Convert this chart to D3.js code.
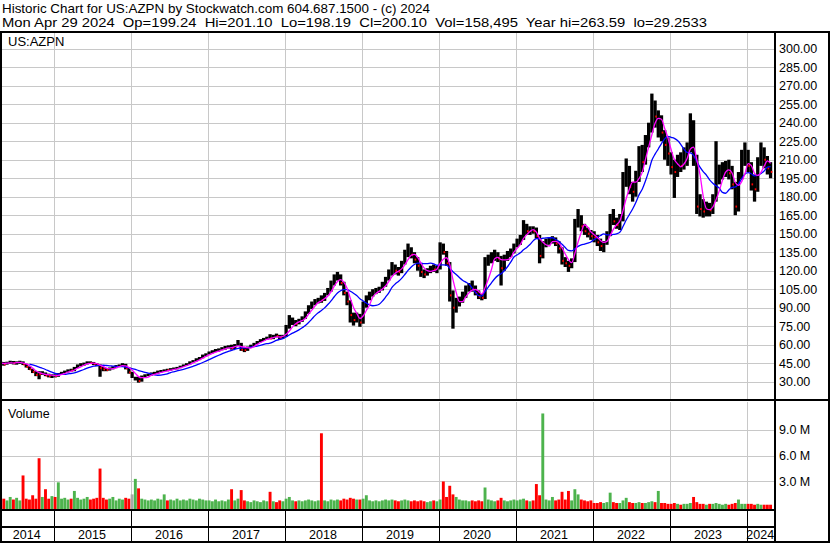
<!DOCTYPE html>
<html><head><meta charset="utf-8">
<script src="https://cdn.jsdelivr.net/npm/d3@7/dist/d3.min.js"></script>
<style>
html,body{margin:0;padding:0;background:#fff}
svg{display:block}
text{font-family:"Liberation Sans",Arial,sans-serif;fill:#000}
</style>
</head><body>
<svg id="chart" width="830" height="543"></svg>
<script>
// ---------------- DATA ----------------
const headerLine1 = "Historic Chart for US:AZPN by Stockwatch.com 604.687.1500 - (c) 2024";
const headerLine2 = "Mon Apr 29 2024  Op=199.24  Hi=201.10  Lo=198.19  Cl=200.10  Vol=158,495  Year hi=263.59  lo=29.2533";
const symbolLabel = "US:AZPN";
const volumeLabel = "Volume";
const priceTicks = [30,45,60,75,90,105,120,135,150,165,180,195,210,225,240,255,270,285,300];
const volumeTicks = [3,6,9];          // millions
const yearLabels = [2014,2015,2016,2017,2018,2019,2020,2021,2022,2023,2024];

// half-month bars: [open, high, low, close, volume (millions)]
// 2014 starts with the 2nd half of April (half-month index 7)
const firstHalfMonth2014 = 7;
const p2014 = [
 [45,46.5,43.5,45.5,1.8],[45.5,46,43,44,1.0],[44,46.2,43.8,45.5,0.8],[45.5,47,44.5,46,1.2],
 [46,46.8,44,45,0.9],[45,46.5,43.8,45.5,1.1],[45.5,47,44.5,46,0.8],[46,46.5,43.5,44,3.7],
 [44,44.5,41.5,42,1.0],[42,42.5,39.5,40,0.9],[40,40.5,37,38,1.4],[38,38.5,34.5,35.5,1.0],
 [37.5,38.5,32,36,5.7],[36,38.5,35.5,37,1.2],[37,37.5,34.5,35,2.1],[35,36.5,33.5,34.5,1.0],
 [34.5,36,33,35,1.3]];
const p2015 = [
 [35,36,33.5,34.5,1.2],[34.5,37,34,36.5,2.9],[36.5,38,36,37.5,1.0],[37.5,39,37,38,1.1],
 [38,40,37.5,39.5,0.9],[39.5,40.5,38.5,39,1.0],[39,42,38.5,41.5,1.9],[41.5,44,41,43.5,1.1],
 [43.5,45,42.5,44,0.9],[44,45.5,43,45,1.0],[45,46.5,44,45.5,1.2],[45.5,46.5,44.5,45,0.9],
 [45,46,43.5,44.5,1.0],[44.5,45,42.5,43.5,1.1],[43.5,44,34,41,4.5],[41,42,38.5,40,1.1],
 [40,41,38.5,39.5,0.9],[39.5,41.5,39,41,1.0],[41,42.5,40,42,1.2],[42,43.5,41,42.5,0.8],
 [42.5,44,42,43.5,1.0],[43.5,45,42.5,44,0.9],[44,44.5,40,41,1.1],[41,41.5,36.5,37.5,1.0]];
const p2016 = [
 [35,38,33,35,1.5],[32,34,31,33.5,3.3],[33.5,34,29.25,30.5,2.2],[30.5,35,30,34,1.0],
 [34,36,33.5,35,0.9],[35,36.5,34.5,35.5,0.8],[35.5,37.5,35,36.5,0.9],[36.5,38,36,37,0.8],
 [37,39,36.5,38,1.0],[38,39.5,37.5,38.5,0.9],[38.5,40,38,39.5,1.5],[39.5,40.5,38.5,39.4,0.8],
 [39.5,41,39,40,0.9],[40,41.5,39.5,41,0.8],[41,42,40,41.5,1.0],[41.5,43,41,42.5,0.8],
 [42.5,44,42,43.5,0.9],[43.5,45,43,44.5,0.8],[44.5,46.5,44,46,1.0],[46,47.5,45.5,47,0.9],
 [47,49,46.5,48.5,0.8],[48.5,50,47.5,49.5,1.0],[49.5,52,49,51.5,0.9],[51.5,53,50.5,52.5,0.8]];
const p2017 = [
 [52.5,54.5,52,53.5,0.8],[53.5,55.5,53,54.5,0.7],[54.5,56.5,54,55.5,0.9],[55.5,57,54.5,56,0.7],
 [56,58,55.5,57,0.8],[57,59,56,58,0.7],[58,59.5,57,58.5,0.9],[58.5,60,56,57,2.1],
 [57,60.5,56.5,60,0.8],[60,63.8,59,61,1.0],[61,61.5,55,56,2.0],[56,57.5,54,55.5,0.8],
 [55.5,58.5,55,58,0.7],[58,60,57.5,59.5,0.6],[59.5,61.5,59,61,0.8],[61,63,60.5,62.5,0.7],
 [62.5,64.5,62,64,0.6],[64,65.5,63,64.5,0.8],[64.5,66.5,64,66,0.7],[66,68.5,64.5,65,1.8],
 [65,68,64.5,67.5,0.7],[67.5,69,66,67,0.6],[67,68,64,65.5,0.8],[65.5,68,65,67,0.7]];
const p2018 = [
 [67,76,66.5,74,1.0],[74,84,73,78,1.2],[78,82,76,79,0.8],[79,80,75,77,0.7],
 [77,81,76.5,80,0.8],[80,83,78.5,82,0.7],[82,87,81,86,0.8],[86,92,85,91,0.9],
 [91,95,89,93,0.8],[93,97,92,95.5,0.7],[95.5,98,93.5,97,0.8],[97,100,94,96,8.6],
 [96,102,95.5,101,0.8],[101,106,100,104,0.7],[104,112,103,110,0.9],[110,117,108,115,0.8],
 [115,119,112,116,0.9],[116,117,108,110,0.8],[110,111,100,102,1.0],[102,103,92,95,0.9],
 [95,96,78,84,1.1],[84,86,75.5,80,1.0],[80,86,78,83,0.9],[83,85,74.5,78,0.9]];
const p2019 = [
 [78,95,77,92,1.0],[92,100,90,98,1.4],[98,103,96,101,0.8],[101,105,99,103,0.7],
 [103,106,101,104,0.8],[104,107,102,105,0.7],[105,111,104,109,0.8],[109,115,107,113,0.9],
 [113,121,112,118,0.8],[118,127,116,121,0.9],[121,125,117,120,0.8],[120,123,116,119,0.7],
 [119,128,118,126,0.8],[126,137,125,134,0.9],[134,142,131,137,0.8],[137,139,130,133,0.7],
 [133,135,126,129,0.8],[129,131,120,124,0.7],[124,126,115,119,0.8],[119,121,114,117,0.7],
 [117,122,116,120,0.6],[120,124,118,122,0.7],[122,125,119,121,0.8],[121,124,118,122,0.7]];
const p2020 = [
 [122,143,121,139,0.9],[139,142,133,135,3.0],[135,136,124,126,1.2],[126,127,95,100,2.5],
 [100,104,73,90,1.5],[90,98,86,94,1.2],[94,99,91,96,0.9],[96,103,94,100,0.8],
 [100,108,98,105,0.8],[105,110,103,107,0.7],[107,112,103,105,0.8],[105,108,100,102,0.7],
 [102,104,97,99,0.8],[99,101,96,98,0.7],[98,131,97,126,2.3],[126,133,124,129,0.9],
 [129,135,126,131,0.8],[131,137,128,133,0.7],[133,135,127,130,0.8],[130,132,108,122,1.1],
 [122,133,120,130,0.8],[130,136,128,134,0.7],[134,138,131,136,0.8],[136,142,134,140,0.9]];
const p2021 = [
 [140,146,139,143,0.8],[143,149,141,146,0.9],[146,161,145,156,1.0],[156,158,149,152,0.8],
 [152,156,149,153,0.7],[153,156,150,152,0.8],[152,155,146,148,2.7],[148,149,126,132,1.4],
 [132,144,130,141,10.9],[141,146,139,143,0.9],[143,147,141,144,0.8],[144,148,142,146,1.2],
 [146,147,140,142,0.8],[142,144,134,138,0.9],[138,139,125,128,1.8],[128,131,123,126,0.9],
 [126,128,119,124,1.9],[124,130,122,128,0.8],[128,162,127,158,2.1],[158,170,155,163,1.5],
 [163,165,152,156,0.9],[156,158,149,152,0.8],[152,155,147,150,0.7],[150,153,145,148,0.8]];
const p2022 = [
 [148,152,143,147,0.5],[147,149,140,143,0.5],[143,146,136,140,0.6],[140,144,135,142,0.5],
 [142,152,141,150,0.6],[150,166,148,162,1.7],[162,170,157,160,0.6],[160,163,154,157,0.5],
 [157,166,153,162,0.5],[162,200,160,195,0.8],[195,211,188,200,1.1],[200,205,182,188,0.6],
 [188,192,176,184,0.5],[184,201,180,195,0.5],[195,221,192,212,0.6],[212,222,200,208,0.5],
 [208,230,206,226,0.5],[226,240,220,235,0.6],[235,263.6,232,252,0.7],[252,258,236,245,0.6],
 [236,250,228,242,1.9],[242,246,225,232,0.5],[232,234,210,222,0.5],[222,228,205,215,0.4]];
const p2023 = [
 [215,216,198,204,0.4],[204,210,179,200,0.5],[200,214,196,208,0.4],[208,216,200,205,0.3],
 [205,220,202,213,0.4],[213,224,205,218,0.4],[218,247.6,216,238,0.5],[238,242,205,212,1.2],
 [212,214,166,172,0.6],[172,182,164,170,0.4],[170,178,163,168,0.4],[168,176,164,171,0.3],
 [171,175,164,169,0.4],[169,182,166,178,0.4],[178,225,176,192,0.5],[192,206,190,200,0.4],
 [200,208,194,203,0.3],[203,209,196,205,0.4],[205,210,194,199,0.3],[199,205,186,190,0.4],
 [190,192,165,172,0.5],[172,200,168,196,0.9],[196,218,194,211,0.4],[211,224,205,215,0.4]];
const p2024 = [
 [215,218,200,205,0.4],[205,208,185,190,0.4],[190,198,176,186,0.3],[186,212,184,208,0.4],
 [208,224,205,215,0.3],[215,220,203,210,0.3],[210,213,198,203,0.3],[203,208,195,200.1,0.3]];

// moving-average windows (in half-month bars)
const shortMAWindow = 4;
const longMAWindow = 10;

// ---------------- BUILD ----------------
const yearsData = [[2014,p2014],[2015,p2015],[2016,p2016],[2017,p2017],[2018,p2018],
  [2019,p2019],[2020,p2020],[2021,p2021],[2022,p2022],[2023,p2023],[2024,p2024]];
const bars = [];
yearsData.forEach(([yr, rows]) => {
  const start = yr === 2014 ? firstHalfMonth2014 : 0;
  rows.forEach((r, i) => {
    const k = start + i;
    bars.push({t: yr + (k + 0.5) / 24, o: r[0], h: r[1], l: r[2], c: r[3], v: r[4]});
  });
});
function movingAvg(n, allowPartial) {
  return bars.map((b, i) => {
    if (i < n - 1 && !allowPartial) return null;
    const s = bars.slice(Math.max(0, i - n + 1), i + 1);
    return {t: b.t, v: d3.mean(s, d => d.c)};
  }).filter(d => d);
}
const shortMA = movingAvg(shortMAWindow, true);
const longMA = movingAvg(longMAWindow, false);

// ---------------- LAYOUT ----------------
const svg = d3.select("#chart");
const plotL = 0, plotR = 774;
const priceTop = 33, priceBot = 400;
const volTop = 402, volBot = 509;
const gridColor = "#c8c8c8";

const x = d3.scaleLinear().domain([2014.305, 2024.357]).range([plotL, plotR]);
const yP = d3.scaleLinear().domain([30, 300]).range([381.7, 48.7]);
const yV = d3.scaleLinear().domain([0, 12]).range([507.3, 404]);

// grid - price
const gP = svg.append("g");
gP.selectAll("line.h").data(priceTicks).join("line")
  .attr("x1", plotL).attr("x2", plotR)
  .attr("y1", d => Math.round(yP(d)) + 0.5).attr("y2", d => Math.round(yP(d)) + 0.5)
  .attr("stroke", gridColor).attr("stroke-width", 1);
const yearLines = yearLabels.slice(1);
gP.selectAll("line.v").data(yearLines).join("line")
  .attr("x1", d => Math.round(x(d)) + 0.5).attr("x2", d => Math.round(x(d)) + 0.5)
  .attr("y1", priceTop).attr("y2", priceBot)
  .attr("stroke", gridColor).attr("stroke-width", 1);
// grid - volume
const gV = svg.append("g");
gV.selectAll("line.h").data(volumeTicks).join("line")
  .attr("x1", plotL).attr("x2", plotR)
  .attr("y1", d => Math.round(yV(d)) + 0.5).attr("y2", d => Math.round(yV(d)) + 0.5)
  .attr("stroke", gridColor).attr("stroke-width", 1);
gV.selectAll("line.v").data(yearLines).join("line")
  .attr("x1", d => Math.round(x(d)) + 0.5).attr("x2", d => Math.round(x(d)) + 0.5)
  .attr("y1", volTop).attr("y2", volBot)
  .attr("stroke", gridColor).attr("stroke-width", 1);

// price bars
const bw = 3.3;
svg.append("g").selectAll("rect").data(bars).join("rect")
  .attr("x", d => x(d.t) - bw / 2).attr("width", bw)
  .attr("y", d => yP(d.h)).attr("height", d => Math.max(1, yP(d.l) - yP(d.h)))
  .attr("fill", "#000");
// red close marks on down bars
svg.append("g").selectAll("rect").data(bars.filter(d => d.c < d.o)).join("rect")
  .attr("x", d => x(d.t) + 0.2).attr("width", 1.6)
  .attr("y", d => yP(d.c) - 1).attr("height", 2)
  .attr("fill", "#ff0000");

// moving averages
const line = d3.line().x(d => x(d.t)).y(d => yP(d.v)).curve(d3.curveMonotoneX);
svg.append("path").datum(longMA).attr("d", line)
  .attr("fill", "none").attr("stroke", "#0000ff").attr("stroke-width", 1.3);
svg.append("path").datum(shortMA).attr("d", line)
  .attr("fill", "none").attr("stroke", "#ff00ff").attr("stroke-width", 1.3);

// volume bars
const vw = 2.9;
svg.append("g").selectAll("rect").data(bars).join("rect")
  .attr("x", d => x(d.t) - vw / 2).attr("width", vw)
  .attr("y", d => yV(d.v)).attr("height", d => volBot - yV(d.v))
  .attr("fill", d => d.c > d.o ? "#4db34d" : (d.c < d.o ? "#ff0000" : "#a8a8a8"));

// frame lines
const frame = svg.append("g").attr("fill", "#000");
frame.append("rect").attr("x", 0).attr("y", 31).attr("width", 830).attr("height", 2);     // header separator
frame.append("rect").attr("x", 0).attr("y", 31).attr("width", 2).attr("height", 512);     // left border
frame.append("rect").attr("x", 774).attr("y", 31).attr("width", 2).attr("height", 511);   // axis line
frame.append("rect").attr("x", 828).attr("y", 31).attr("width", 2).attr("height", 512);   // right border
frame.append("rect").attr("x", 0).attr("y", 399).attr("width", 830).attr("height", 2);    // price/vol separator
frame.append("rect").attr("x", 0).attr("y", 509).attr("width", 776).attr("height", 2);    // vol bottom
frame.append("rect").attr("x", 0).attr("y", 526).attr("width", 776).attr("height", 2);    // strip bottom
frame.append("rect").attr("x", 0).attr("y", 541).attr("width", 830).attr("height", 2);    // bottom border
svg.append("g").selectAll("line").data(yearLines).join("line")
  .attr("x1", d => Math.round(x(d)) + 0.5).attr("x2", d => Math.round(x(d)) + 0.5)
  .attr("y1", 510).attr("y2", 541).attr("stroke", "#000").attr("stroke-width", 1);

// texts
svg.append("text").attr("x", 2).attr("y", 13).attr("font-size", 13)
  .attr("textLength", 428).attr("lengthAdjust", "spacingAndGlyphs").text(headerLine1);
svg.append("text").attr("x", 2).attr("y", 27).attr("font-size", 13).style("white-space", "pre")
  .attr("textLength", 705).attr("lengthAdjust", "spacingAndGlyphs").text(headerLine2);
svg.append("text").attr("x", 8).attr("y", 46).attr("font-size", 13).text(symbolLabel);
svg.append("text").attr("x", 8).attr("y", 418).attr("font-size", 12.5).text(volumeLabel);

const fmtP = d3.format(".2f");
svg.append("g").selectAll("text").data(priceTicks).join("text")
  .attr("x", 779).attr("y", d => yP(d) + 4.5).attr("font-size", 12.5)
  .text(d => fmtP(d));
svg.append("g").selectAll("text").data(volumeTicks).join("text")
  .attr("x", 779).attr("y", d => yV(d) + 4.5).attr("font-size", 12.5)
  .text(d => d3.format(".1f")(d) + " M");

const bounds = [x.domain()[0], ...yearLines, x.domain()[1]];
svg.append("g").selectAll("text").data(yearLabels).join("text")
  .attr("x", (d, i) => (x(bounds[i]) + x(bounds[i + 1])) / 2)
  .attr("y", 539).attr("text-anchor", "middle").attr("font-size", 12.5)
  .text(d => d);
</script>
</body></html>
